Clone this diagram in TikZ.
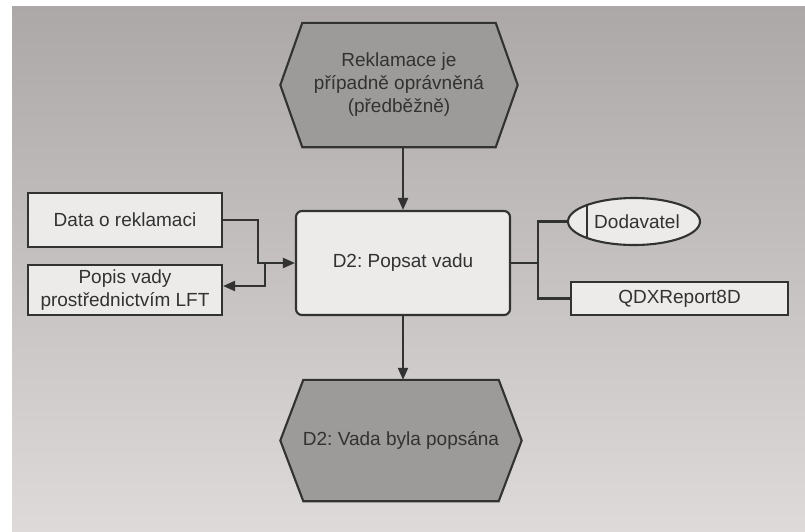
\documentclass[tikz,border=0pt]{standalone}
\usepackage{fontspec}
\setmainfont{Liberation Sans}
\usetikzlibrary{arrows.meta,calc,shapes.geometric}
\pgfdeclarelayer{page}
\pgfdeclarelayer{shape}
\pgfsetlayers{page,shape,main}
\definecolor{ink}{RGB}{50,50,50}
\definecolor{evfill}{RGB}{156,155,154}
\definecolor{boxfill}{RGB}{236,235,234}
\definecolor{pagetop}{RGB}{172,168,167}
\definecolor{pagemid}{RGB}{214,211,210}
\definecolor{pagebot}{RGB}{222,218,218}

% hexagonal event outline around a named node (#1), corner inset #2
\newcommand{\evhex}[2]{%
  \begin{pgfonlayer}{shape}
    \path[line, fill=evfill, line join=miter]
      ([xshift=#2]#1.north west) -- ([xshift=-#2]#1.north east) -- (#1.east)
      -- ([xshift=-#2]#1.south east) -- ([xshift=#2]#1.south west) -- (#1.west) -- cycle;
  \end{pgfonlayer}}

\frenchspacing
\begin{document}
\begin{tikzpicture}[x=1pt,y=-1pt,
  font=\fontsize{19}{23}\selectfont, text=ink,
  line/.style={draw=ink, line width=2.1pt},
  arr/.style={line, -{Triangle[length=12pt,width=10pt]}},
  event/.style={inner sep=0pt, align=center},
  fnbox/.style={line, fill=boxfill, rounded corners=6pt, inner sep=0pt, align=center},
  datbox/.style={line, fill=boxfill, inner sep=0pt, align=center},
]
\useasboundingbox (0,0) rectangle (805,531);

% paper
\begin{pgfonlayer}{page}
  \fill[white] (0,0) rectangle (805,531);
  \shade[top color=pagetop, middle color=pagemid, bottom color=pagebot] (12,6) rectangle (805,531);
\end{pgfonlayer}

% events
\node[event, minimum width=237pt, minimum height=124pt] (ev1) at (399,85)
  {Reklamace je\\případně oprávněná\\(předběžně)};
\evhex{ev1}{22pt}
\node[event, minimum width=241pt, minimum height=121pt] (ev2) at (401,440.5)
  {D2: Vada byla popsána};
\evhex{ev2}{23pt}

% function
\node[fnbox, minimum width=214pt, minimum height=104pt] (fn) at (403,263) {D2: Popsat vadu};

% data objects
\node[datbox, minimum width=194pt, minimum height=54pt] (data) at (125,220) {Data o reklamaci};
\node[datbox, minimum width=194pt, minimum height=50pt] (popis) at (125,290)
  {Popis vady\\prostřednictvím LFT};

% organisational unit and system
\node[ellipse, line, fill=boxfill, minimum width=132pt, minimum height=47pt, inner sep=0pt]
  (dod) at (634,221.5) {\hspace{6pt}Dodavatel};
\draw[line] ($(dod.center)+(-47pt,-16.5pt)$) -- ($(dod.center)+(-47pt,16.5pt)$);
\node[datbox, minimum width=217pt, minimum height=33pt] (qdx) at (679.5,298.5) {QDXReport8D};

% control flow
\draw[arr] (ev1.south -| fn.north) -- (fn.north);
\draw[arr] (fn.south) -- (fn.south |- ev2.north);

% input / output
\coordinate (jl) at ($(fn.west)+(-30pt,0)$);
\draw[arr] (data.east) -- ++(35,0) |- (fn.west);
\draw[arr] (jl) |- ([yshift=4pt]popis.east);

% resources
\coordinate (jr) at ($(fn.east)+(27pt,0)$);
\draw[line] (fn.east) -- (jr);
\draw[line] (dod.west) -| (jr) |- (qdx.west);
\end{tikzpicture}
\end{document}
